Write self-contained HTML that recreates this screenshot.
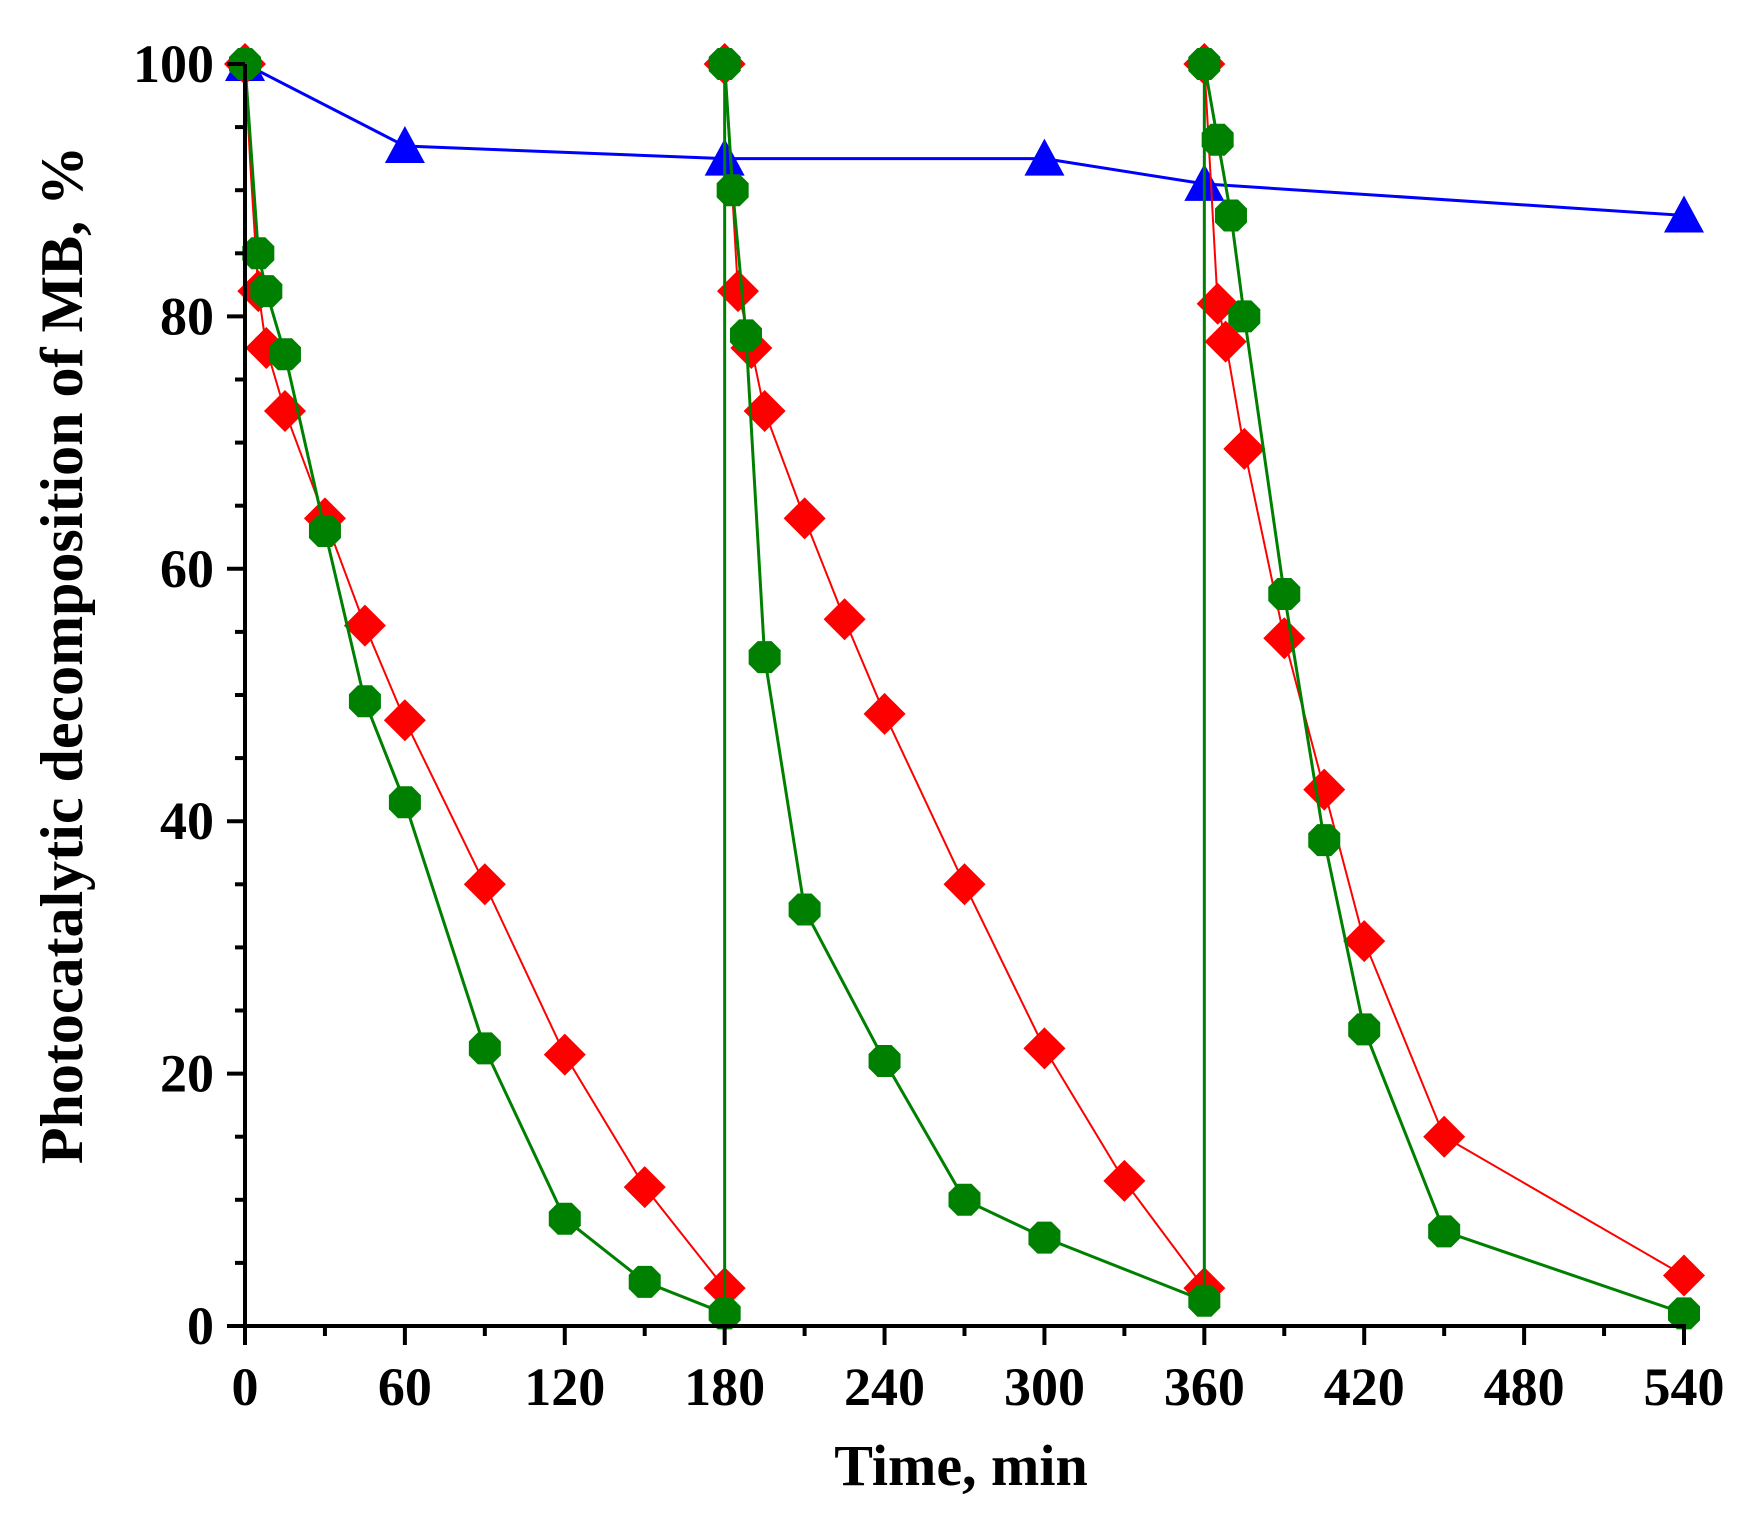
<!DOCTYPE html>
<html><head><meta charset="utf-8"><style>
body{margin:0;background:#fff}
svg{display:block}
text{font-family:"Liberation Serif",serif;font-weight:bold;fill:#000}
</style></head><body>
<svg width="1741" height="1516" viewBox="0 0 1741 1516" xmlns="http://www.w3.org/2000/svg">
<defs>
<symbol id="d" viewBox="-22 -22 44 44" overflow="visible"><polygon points="0,-21 21,0 0,21 -21,0" fill="#ff0000"/></symbol>
<symbol id="g" viewBox="-17 -17 34 34" overflow="visible"><polygon points="-7,-16 7,-16 16,-7 16,7 7,16 -7,16 -16,7 -16,-7" fill="#008000"/></symbol>
<symbol id="t" viewBox="-21 -21 42 42" overflow="visible"><polygon points="0,-20 20,17 -20,17" fill="#0000ff"/></symbol>
</defs>
<g id="plot"></g>
<g stroke="#000" stroke-width="4" fill="none" id="axes"></g>
<g id="labels"></g>
<text x="0" y="0" font-size="60" text-anchor="middle" transform="translate(82,655) rotate(-90)">Photocatalytic decomposition of MB, %</text>
<text x="961" y="1485" font-size="58" text-anchor="middle">Time, min</text>
<script>
var X=function(t){return 245+t*(1684-245)/540},Y=function(v){return 1326-v*12.62};
var ns="http://www.w3.org/2000/svg";
function el(p,n,a){var e=document.createElementNS(ns,n);for(var k in a)e.setAttribute(k,a[k]);p.appendChild(e);return e}
var plot=document.getElementById('plot'),axes=document.getElementById('axes'),lab=document.getElementById('labels');
var blue=[[0,100],[60,93.5],[180,92.5],[300,92.5],[360,90.5],[540,88]];
var red=[[0,100],[2,92],[5,82],[8,77.5],[15,72.5],[30,64],[45,55.5],[60,48],[90,35],[120,21.5],[150,11],[180,3],[180,100],[185,82],[190,77.5],[195,72.5],[210,64],[225,56],[240,48.5],[270,35],[300,22],[330,11.5],[360,3],[360,100],[365,81],[368,78],[375,69.5],[390,54.5],[405,42.5],[420,30.5],[450,15],[540,4]];
var green=[[0,100],[5,85],[8,82],[15,77],[30,63],[45,49.5],[60,41.5],[90,22],[120,8.5],[150,3.5],[180,1],[180,100],[183,90],[188,78.5],[195,53],[210,33],[240,21],[270,10],[300,7],[360,2],[360,100],[365,94],[370,88],[375,80],[390,58],[405,38.5],[420,23.5],[450,7.5],[540,1]];
function line(d,c,w){el(plot,'polyline',{points:d.map(function(p){return X(p[0])+','+Y(p[1])}).join(' '),fill:'none',stroke:c,'stroke-width':w})}
function marks(d,id,s){d.forEach(function(p){if(id=='d'&&p[1]==92)return;el(plot,'use',{href:'#'+id,x:X(p[0])-s,y:Y(p[1])-s,width:2*s,height:2*s})})}
line(blue,'#0000ff',3);marks(blue,'t',21);
line(red,'#ff0000',2);marks(red,'d',22);
line(green,'#008000',3);marks(green,'g',17);
el(axes,'line',{x1:245,y1:Y(100),x2:245,y2:1328});
el(axes,'line',{x1:228,y1:1326,x2:1686,y2:1326});
for(var v=0;v<=100;v+=5){var mj=v%20==0;el(axes,'line',{x1:mj?227:235,y1:Y(v),x2:245,y2:Y(v)});
 if(mj){var t=el(lab,'text',{x:214,y:Y(v)+18,'font-size':54,'text-anchor':'end'});t.textContent=v;}}
for(var t=0;t<=540;t+=30){var mj=t%60==0;el(axes,'line',{x1:X(t),y1:1326,x2:X(t),y2:mj?1345:1336});
 if(mj){var e=el(lab,'text',{x:X(t),y:1405,'font-size':54,'text-anchor':'middle'});e.textContent=t;}}
</script>
</svg>
</body></html>
